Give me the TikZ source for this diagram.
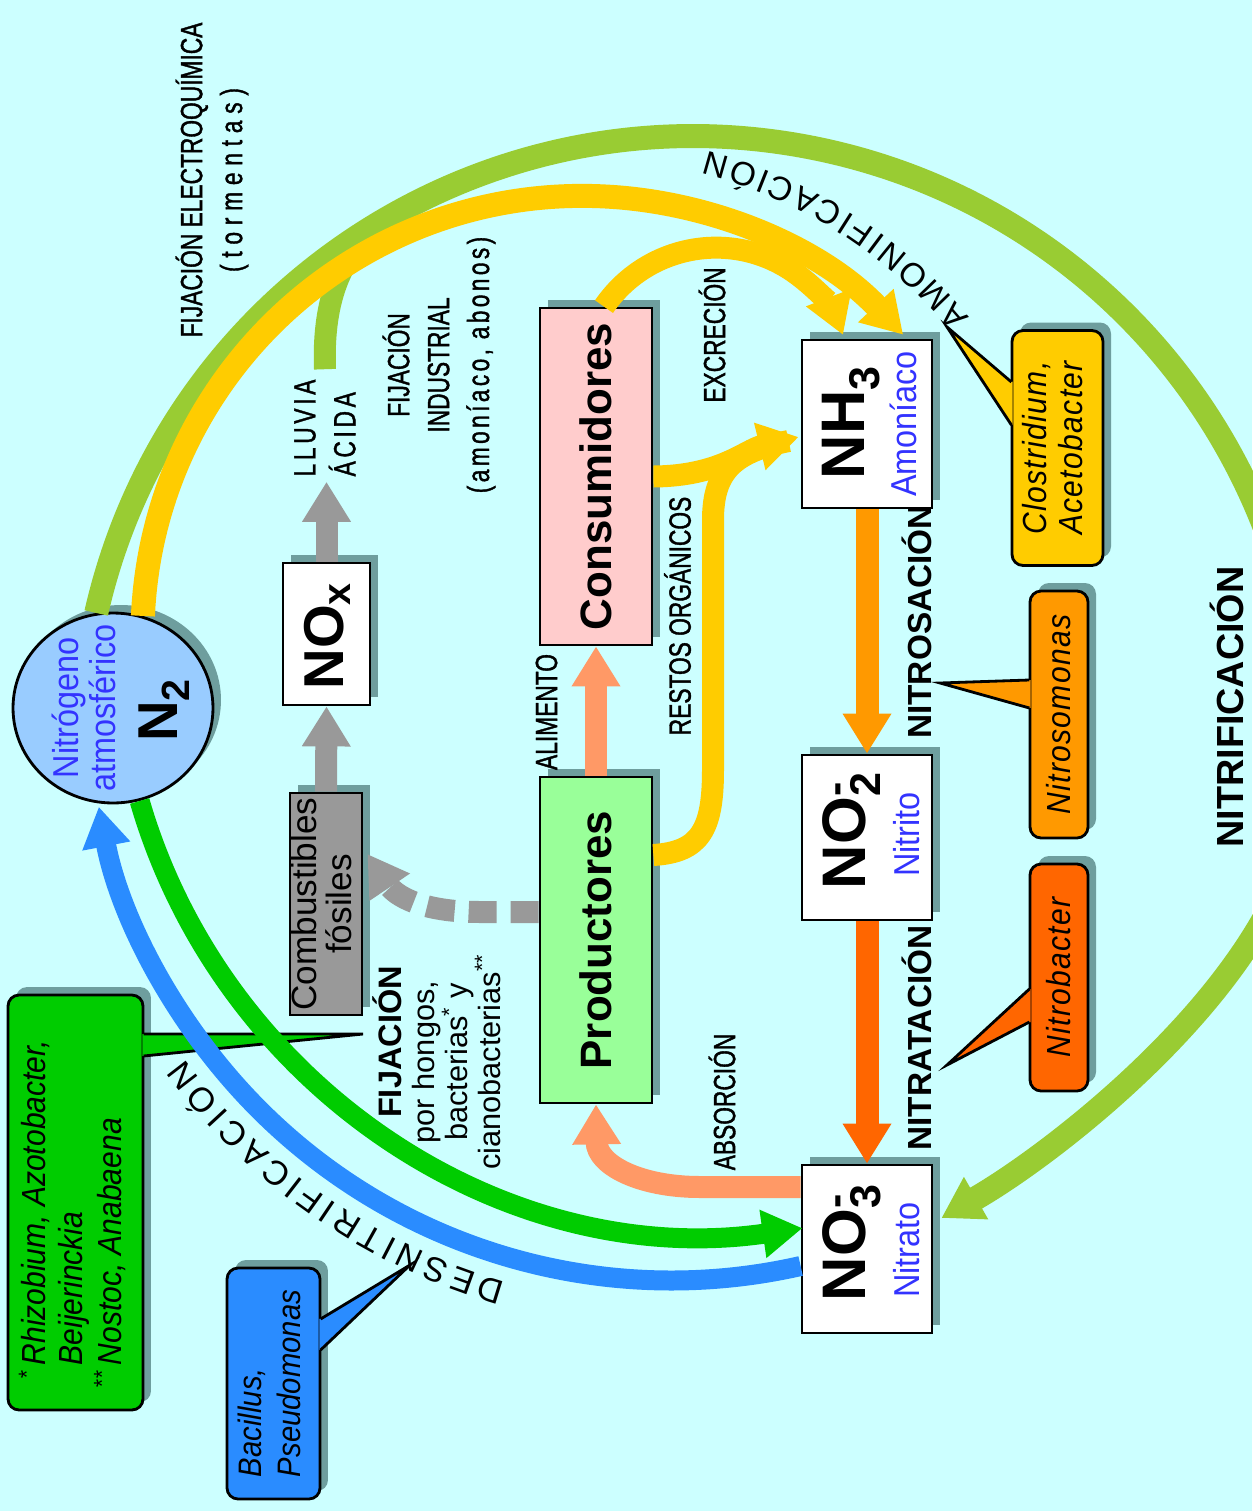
\documentclass[tikz,border=0pt]{standalone}
\usepackage{fontspec}
\setmainfont{Liberation Sans}
\newfontfamily\thinfont[FakeStretch=0.74,FakeBold=1.2]{Liberation Sans}
\newfontfamily\calfont[FakeStretch=0.9]{Liberation Sans}
\usetikzlibrary{arrows.meta,calc,shapes.geometric,shadows,decorations.text}

\definecolor{bgc}{HTML}{CCFFFF}
\definecolor{airblue}{HTML}{99CCFF}
\definecolor{labblue}{HTML}{3333FF}
\definecolor{prodgreen}{HTML}{99FF99}
\definecolor{conspink}{HTML}{FFCCCC}
\definecolor{fossilgray}{HTML}{999999}
\definecolor{salmon}{HTML}{FF9966}
\definecolor{amber}{HTML}{FFCC00}
\definecolor{olive}{HTML}{99CC33}
\definecolor{leaf}{HTML}{00CC00}
\definecolor{sky}{HTML}{2A8CFF}
\definecolor{tangerine}{HTML}{FF9900}
\definecolor{rust}{HTML}{FF6600}
\definecolor{shade}{HTML}{6E9E9E}

\newcommand{\vtext}[2][c]{\rotatebox{90}{\begin{tabular}{@{}#1@{}}#2\end{tabular}}}

\begin{document}
\begin{tikzpicture}[x=0.02cm,y=-0.02cm,>={Triangle[length=0.8cm,width=0.92cm]},
 box/.style={draw,line width=1.6pt,inner sep=0pt,drop shadow={shadow xshift=0.16cm,shadow yshift=0.16cm,fill=shade,opacity=1}},
 formbox/.style={box,fill=white,minimum width=2.6cm,minimum height=3.36cm},
 bubble/.style={box,rounded corners=0.22cm,font=\calfont\itshape\fontsize{19}{20}\selectfont\addfontfeature{LetterSpace=4}},
 tag/.style={rotate=90,inner sep=0pt,font=\thinfont\fontsize{17.5}{22.7}\selectfont},
 stage/.style={rotate=90,inner sep=0pt,font=\bfseries\fontsize{19}{22}\selectfont},
 formula/.style={rotate=90,inner sep=0pt,font=\bfseries\fontsize{35}{40}\selectfont},
 species/.style={rotate=90,inner sep=0pt,align=center,text=labblue,font=\calfont\fontsize{20.5}{21.5}\selectfont},
 flow/.style={line width=0.44cm}]
\useasboundingbox (0,0) rectangle (1252,1511);
\fill[bgc] (0,0) rectangle (1252,1511);

\node[box,ellipse,fill=airblue,minimum width=4cm,minimum height=3.8cm] (n2) at (113,708) {};
\node[box,fill=white,minimum width=1.74cm,minimum height=2.84cm] (nox) at (326.5,634) {};
\node[box,fill=fossilgray,minimum width=1.44cm,minimum height=4.44cm,font=\fontsize{20}{18}\selectfont] (comb) at (326,904) {\vtext{Combustibles\\fósiles}};
\node[box,fill=prodgreen,minimum width=2.24cm,minimum height=6.52cm,font=\bfseries\fontsize{25}{28}\selectfont] (prod) at (596,940) {\rotatebox{90}{Productores}};
\node[box,fill=conspink,minimum width=2.24cm,minimum height=6.74cm,font=\bfseries\fontsize{25}{28}\selectfont] (cons) at (596,476.5) {\rotatebox{90}{Consumidores}};
\node[formbox] (nh3) at (867,424) {};
\node[formbox,minimum height=3.3cm] (no2) at (867,837.5) {};
\node[formbox] (no3) at (867,1249) {};
\node[bubble,fill=amber,minimum width=1.82cm,minimum height=4.7cm] (clos) at (1057.5,448) {\vtext[l]{Clostridium,\\Acetobacter}};
\node[bubble,fill=tangerine,minimum width=1.16cm,minimum height=4.94cm] (nsomo) at (1059,714.5) {\rotatebox{90}{Nitrosomonas}};
\node[bubble,fill=rust,minimum width=1.16cm,minimum height=4.54cm] (nbact) at (1059,977.5) {\rotatebox{90}{Nitrobacter}};
\node[bubble,fill=leaf,minimum width=2.7cm,minimum height=8.3cm,font=\calfont\itshape\fontsize{19}{21}\selectfont] (fijbox) at (75.5,1202.5) {\vtext[l]{\llap{\textsuperscript{*}\,}Rhizobium, Azotobacter,\\Beijerinckia\\\llap{\textsuperscript{**}\,}Nostoc, Anabaena}};
\node[bubble,fill=sky,minimum width=1.86cm,minimum height=4.62cm,font=\calfont\itshape\fontsize{18.5}{22}\selectfont] (desbox) at (273.5,1383.5) {\vtext[l]{Bacillus,\\Pseudomonas}};

\node[species] (airname) at ($(n2.center)+(-29,0)$) {Nitrógeno\\atmosférico};
\node[formula,font=\bfseries\fontsize{32}{36}\selectfont] (n2f) at ($(n2.center)+(51,2)$) {N\textsubscript{2}};
\node[formula,font=\bfseries\fontsize{32}{36}\selectfont] (noxf) at ($(nox.center)+(1,2)$) {NO\textsubscript{x}};
\node[formula] (nh3f) at ($(nh3.center)+(-15.5,-1.5)$) {NH\textsubscript{3}};
\node[species] (nh3name) at ($(nh3.center)+(36,0)$) {Amoníaco};
\node[formula] (no2f) at ($(no2.center)+(-15.5,-7)$) {NO\rlap{\textsuperscript{-}}\textsubscript{2}};
\node[species] (no2name) at ($(no2.center)+(40,-3)$) {Nitrito};
\node[formula] (no3f) at ($(no3.center)+(-15.5,-6.5)$) {NO\rlap{\textsuperscript{-}}\textsubscript{3}};
\node[species] (no3name) at ($(no3.center)+(40,1)$) {Nitrato};

\node[tag,align=center] (elec) at (212,180) {FIJACIÓN ELECTROQUÍMICA\\\addfontfeature{LetterSpace=22}(tormentas)};
\node[tag,align=left,font=\thinfont\fontsize{17.5}{22.7}\selectfont\addfontfeature{LetterSpace=12}] (lluvia) at (325,428) {LLUVIA\\ÁCIDA};
\node[tag,align=center] (indus) at (439,365) {FIJACIÓN\\INDUSTRIAL\\\addfontfeature{LetterSpace=11}(amoníaco, abonos)};
\node[tag] (excr) at (712,335) {EXCRECIÓN};
\node[tag] (restos) at (677.5,616) {RESTOS ORGÁNICOS};
\node[tag] (absor) at (722,1102) {ABSORCIÓN};
\node[tag] (alim) at (546.5,712) {ALIMENTO};
\node[rotate=90,inner sep=0pt,align=center,font=\fontsize{17.5}{18.7}\selectfont] (fijac) at (437,1062) {\hspace*{0.8cm}{\bfseries\fontsize{18.5}{22}\selectfont FIJACIÓN}\\por hongos,\\bacterias\textsuperscript{*} y\\cianobacterias\textsuperscript{**}};
\node[stage] (nitros) at (917,622) {NITROSACIÓN};
\node[stage] (nitrat) at (917,1038) {NITRATACIÓN};
\node[stage,font=\bfseries\fontsize{21.5}{24}\selectfont] (nitrif) at (1226.5,707) {NITRIFICACIÓN};

\coordinate (clostip) at (947,327);
\coordinate (nsomotip) at (940,683);
\coordinate (nbacttip) at (947,1065);
\coordinate (fijtip) at (363,1034);
\coordinate (destip) at (410,1265);
\fill[amber] ($(clos.west)+(2,-66)$) -- (clostip) -- ($(clos.west)+(2,-23)$) -- cycle;
\draw[line width=1.6pt] ($(clos.west)+(0.8,-66)$) -- (clostip) -- ($(clos.west)+(0.8,-23)$);
\fill[tangerine] ($(nsomo.west)+(2,-34.5)$) -- (nsomotip) -- ($(nsomo.west)+(2,-6.5)$) -- cycle;
\draw[line width=1.6pt] ($(nsomo.west)+(0.8,-34.5)$) -- (nsomotip) -- ($(nsomo.west)+(0.8,-6.5)$);
\fill[rust] ($(nbact.west)+(2,11.5)$) -- (nbacttip) -- ($(nbact.west)+(2,44.5)$) -- cycle;
\draw[line width=1.6pt] ($(nbact.west)+(0.8,11.5)$) -- (nbacttip) -- ($(nbact.west)+(0.8,44.5)$);
\fill[leaf] ($(fijbox.east)+(-2,-168.5)$) -- (fijtip) -- ($(fijbox.east)+(-2,-146.5)$) -- cycle;
\draw[line width=1.6pt] ($(fijbox.east)+(-0.8,-168.5)$) -- (fijtip) -- ($(fijbox.east)+(-0.8,-146.5)$);
\fill[sky] ($(desbox.east)+(-2,-64.5)$) -- (destip) -- ($(desbox.east)+(-2,-33.5)$) -- cycle;
\draw[line width=1.6pt] ($(desbox.east)+(-0.8,-64.5)$) -- (destip) -- ($(desbox.east)+(-0.8,-33.5)$);

\coordinate (storm) at (397,214.3);
\draw[olive,line width=0.48cm,->] (n2.100) arc[start angle=192.8,end angle=365,radius=612.5] .. controls (1289,972) and (1060,1150) .. ($(no3.east)+(8,-31)$);
\draw[olive,flow] (storm) .. controls (347,241) and (322,290) .. ($(lluvia.east)+(0,-10)$);
\draw[amber,line width=0.48cm,->] (n2.72) arc[start angle=182.6,end angle=316.8,radius=440];
\draw[amber,flow,->] ($(cons.north)+(8,0)$) arc[start angle=214.5,end angle=339,radius=136];
\draw[amber,flow] ($(prod.east)+(0,-85)$) .. controls (700,852) and (713,830) .. (713,770) -- (713,520) .. controls (713,470) and (735,452) .. ($(nh3.west)+(-12,17)$);
\draw[amber,flow,->] (cons.east) .. controls (720,476) and (745,450) .. ($(nh3.west)+(-2,13)$);
\draw[salmon,flow,->] (prod.north) -- (cons.south);
\draw[salmon,flow,->] ($(no3.west)+(0,-62)$) -- (700,1187) .. controls (640,1187) and (597,1165) .. (prod.south);
\draw[leaf,line width=0.4cm,->] (n2.-74) arc[start angle=163.8,end angle=81.8,radius=601];
\draw[sky,line width=0.4cm,->] ($(no3.west)+(0,17)$) arc[start angle=77.2,end angle=169.2,radius=583];
\draw[tangerine,line width=0.46cm,->] (nh3.south) -- (no2.north);
\draw[rust,line width=0.46cm,->] (no2.south) -- (no3.north);
\draw[fossilgray,flow,dash pattern=on 0.56cm off 0.28cm,->] ($(prod.west)+(0,-28)$) -- (480,912) .. controls (420,912) and (395,895) .. ($(comb.east)+(4,-50)$);
\draw[fossilgray,flow,->] (comb.north) -- (nox.south);
\draw[fossilgray,flow,->] (nox.north) -- ($(nox.north |- lluvia.west)+(0,5)$);

\path[decorate,decoration={text along path,text align=fit to path,text={|\fontsize{19}{19}\selectfont|AMONIFICACIÓN}}] (582,637) ++(-39.5:502) arc[start angle=-39.5,end angle=-75.5,radius=502];
\path[decorate,decoration={text along path,text align=fit to path,text={|\fontsize{19.5}{19.5}\selectfont|DESNITRIFICACIÓN}}] (673,697.5) ++(106:608) arc[start angle=106,end angle=143.5,radius=608];
\end{tikzpicture}
\end{document}
